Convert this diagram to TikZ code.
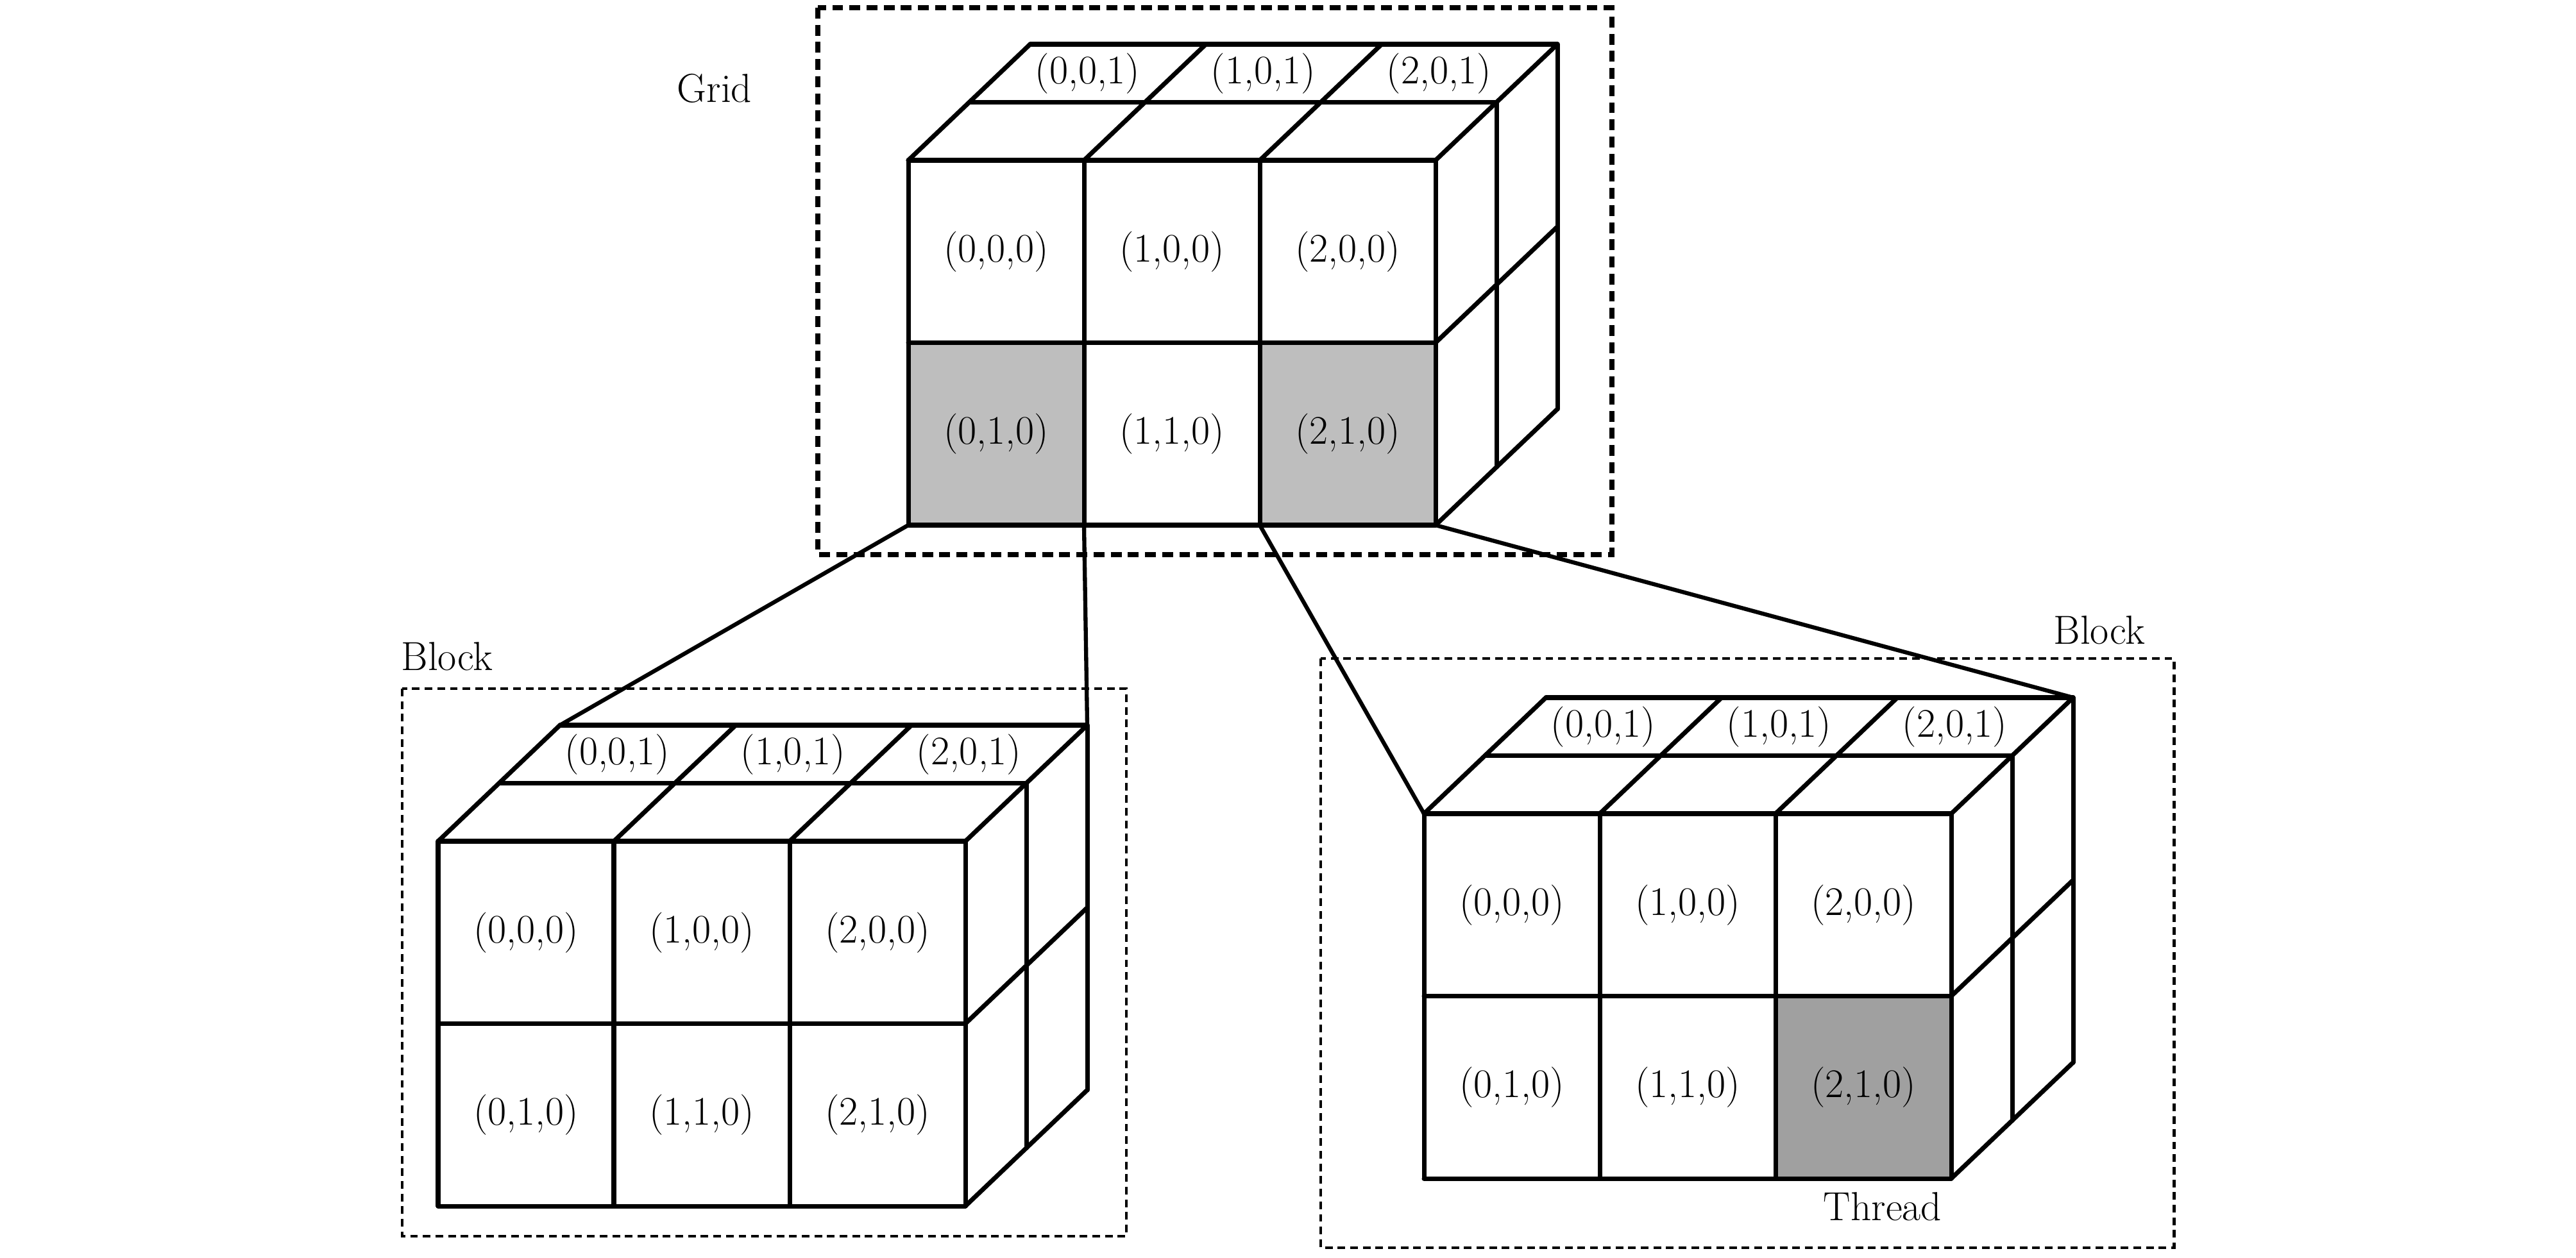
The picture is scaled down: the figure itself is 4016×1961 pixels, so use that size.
\documentclass[tikz,border=0pt]{standalone}
\usepackage{xcolor}
\usepackage{tikz}
\usetikzlibrary{positioning,calc}
\definecolor{cellshade}{HTML}{BEBEBE}
\definecolor{threadshade}{HTML}{A0A0A0}

\tikzset{
  cubeline/.style={line width=2pt, line cap=round, line join=round},
  linkline/.style={line width=1.8pt},
  gridframe/.style={line width=2.3pt, dash pattern=on 4.8pt off 2.8pt},
  blockframe/.style={line width=1.4pt, dash pattern=on 3.4pt off 2.2pt},
  cellidx/.style={inner sep=0pt},
}

% 3x2x2 cube: name, front top-left x, y, shading drawn first
\newcommand{\gpucube}[4]{%
  \begin{scope}[shift={(#2,#3)}]
    #4
    % front face
    \foreach \i in {0,...,3} \draw[cubeline] (274*\i,0) -- (274*\i,569);
    \foreach \j in {0,1,2} \draw[cubeline] (0,284.5*\j) -- (822,284.5*\j);
    % top face
    \foreach \i in {0,...,3} \draw[cubeline] (274*\i,0) -- ++(190,-181);
    \foreach \k in {1,2} \draw[cubeline] (95*\k,-90.5*\k) -- ++(822,0);
    % right face
    \foreach \k in {1,2} \draw[cubeline] (822+95*\k,-90.5*\k) -- ++(0,569);
    \foreach \j in {1,2} \draw[cubeline] (822,284.5*\j) -- ++(190,-181);
    % labels
    \foreach \i in {0,1,2} {
      \foreach \j in {0,1}
        \node[cellidx] (#1-\i\j) at (137+274*\i,142.25+284.5*\j) {(\i,\j,0)};
      \node[cellidx] (#1-t\i) at (279.5+274*\i,-135.75) {(\i,0,1)};
    }
    % corners
    \foreach \i in {0,...,3} \coordinate (#1-b\i) at (274*\i,569);
    \coordinate (#1-ftl) at (0,0);
    \coordinate (#1-btl) at (190,-181);
    \coordinate (#1-btr) at (1012,-181);
  \end{scope}}

\begin{document}
\begin{tikzpicture}[x=0.01cm, y=-0.01cm, every node/.style={font=\fontsize{18}{21}\selectfont}]
  \useasboundingbox (0,0) rectangle (4016,1961);

  % grid
  \draw[gridframe] (1275,12) rectangle (2513,865);
  \node (gridlbl) at (1114,138) {Grid};
  \gpucube{grid}{1416}{250}{%
    \fill[cellshade] (0,284.5) rectangle ++(274,284.5);
    \fill[cellshade] (548,284.5) rectangle ++(274,284.5);}

  % left block
  \draw[blockframe] (627,1074) rectangle (1756,1928);
  \node (lblklbl) at (697,1024) {Block};
  \gpucube{lblk}{683}{1312}{}

  % right block
  \draw[blockframe] (2059,1027) rectangle (3389,1946);
  \node (rblklbl) at (3273,983) {Block};
  \node (thrlbl) at (2935,1882) {Thread};
  \gpucube{rblk}{2220}{1269}{%
    \fill[threadshade] (548,284.5) rectangle ++(274,284.5);}

  % zoom lines
  \draw[linkline] (grid-b0) -- (lblk-btl);
  \draw[linkline] (grid-b1) -- (lblk-btr);
  \draw[linkline] (grid-b2) -- (rblk-ftl);
  \draw[linkline] (grid-b3) -- (rblk-btr);
\end{tikzpicture}
\end{document}
